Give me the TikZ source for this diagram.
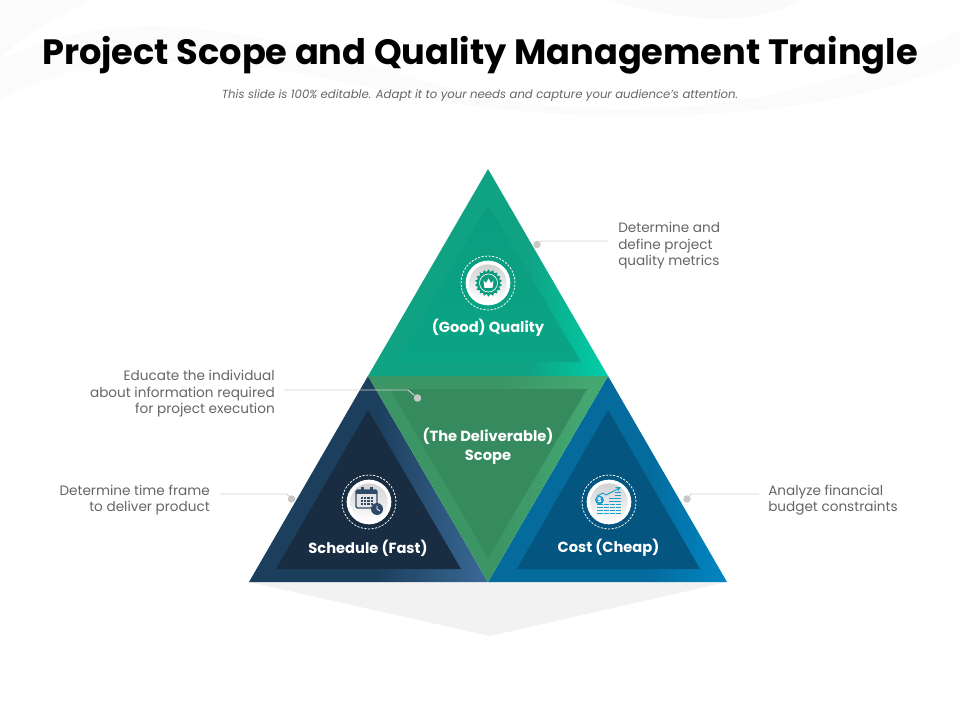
\documentclass[tikz,border=0pt]{standalone}
\usepackage{fontspec}
\setmainfont{Poppins}
\usetikzlibrary{shapes.geometric}
\definecolor{txt}{HTML}{666666}
\definecolor{lineg}{HTML}{D0D0D0}
\definecolor{dotg}{HTML}{C8C8C8}
\definecolor{dishtop}{HTML}{D2D2D2}
\definecolor{iconb}{HTML}{1C9CCB}
\definecolor{iconn}{HTML}{2F4A66}
\definecolor{qa}{HTML}{0FA283}\definecolor{qb}{HTML}{00CFA8}\definecolor{qi}{HTML}{0B9C7E}\definecolor{qj}{HTML}{0AA586}
\definecolor{sa}{HTML}{1D3F5E}\definecolor{sb}{HTML}{3A6A96}\definecolor{si}{HTML}{182C42}
\definecolor{ca}{HTML}{056A9C}\definecolor{cb}{HTML}{0087C4}\definecolor{ci}{HTML}{04557F}
\definecolor{da}{HTML}{3B9565}\definecolor{db}{HTML}{45A871}\definecolor{di}{HTML}{368B5E}
\pgfdeclarehorizontalshading{qshade}{100bp}{color(0bp)=(qa); color(58bp)=(qa); color(75bp)=(qb); color(100bp)=(qb)}
\pgfdeclarehorizontalshading{sshade}{100bp}{color(0bp)=(sa); color(52bp)=(sa); color(75bp)=(sb); color(100bp)=(sb)}
\pgfdeclarehorizontalshading{cshade}{100bp}{color(0bp)=(ca); color(58bp)=(ca); color(75bp)=(cb); color(100bp)=(cb)}
\pgfdeclarehorizontalshading{dshade}{100bp}{color(0bp)=(da); color(52bp)=(da); color(72bp)=(db); color(100bp)=(db)}
\tikzset{
  x=0.75pt,y=-0.75pt,
  note/.style={text=txt,font=\fontsize{10.2pt}{12.4pt}\selectfont,inner ysep=0pt,inner xsep=0pt},
  tag/.style={text=white,font=\fontsize{11pt}{14.4pt}\selectfont\bfseries,align=center,inner sep=0pt},
  lead/.style={draw=lineg,line width=0.7pt},
  dotn/.style={circle,fill=dotg,draw=none,minimum size=5.6pt,inner sep=0pt},
  ring/.style={circle,draw=white,dash pattern=on 1.6pt off 1.1pt,line width=0.6pt,minimum size=40.5pt,inner sep=0pt},
  disc/.style={circle,fill=white,minimum size=33.5pt,inner sep=0pt},
  dish/.style={circle,top color=dishtop,bottom color=white,minimum size=28pt,inner sep=0pt},
}
\begin{document}
\begin{tikzpicture}
\useasboundingbox (0,0) rectangle (960,720);
\fill[white] (0,0) rectangle (960,720);
% faint background swooshes
\fill[black!1.5] (0,60) .. controls (120,0) and (260,30) .. (420,80) .. controls (600,135) and (800,110) .. (960,30) -- (960,62) .. controls (800,130) and (560,125) .. (400,95) .. controls (260,60) and (100,40) .. (0,100) -- cycle;
\fill[black!2] (610,0) .. controls (690,25) and (760,25) .. (800,0) -- cycle;
\fill[black!1.5] (0,0) -- (90,0) .. controls (60,20) and (30,25) .. (0,60) -- cycle;
% shadow
\fill[black!5] (249,582) -- (727,582) -- (490,636) -- cycle;
% title
\node[inner sep=0pt,font=\fontsize{26.4pt}{30pt}\selectfont\bfseries,text=black] (title) at (480,55) {Project Scope and Quality Management Traingle};
\node[inner sep=0pt,font=\fontsize{8.75pt}{10pt}\selectfont\itshape,text=txt] (sub) at (480,95.5) {This slide is 100\% editable. Adapt it to your needs and capture your audience's attention.};
% triangles
\shade[shading=sshade] (368,376) -- (249,582) -- (488,582) -- cycle;
\fill[si] (368,410) -- (276,569) -- (461,569) -- cycle;
\shade[shading=cshade] (608,376) -- (488,582) -- (727,582) -- cycle;
\fill[ci] (608,410) -- (517,569) -- (700,569) -- cycle;
\shade[shading=dshade] (368,376) -- (608,376) -- (488,582) -- cycle;
\fill[di] (390,389) -- (587,389) -- (488,558) -- cycle;
\shade[shading=qshade] (488,169) -- (368,376) -- (608,376) -- cycle;
\shade[top color=qi,bottom color=qj] (488,205) -- (397,362) -- (581,362) -- cycle;
% labels on triangles
\node[tag] (good) at (488,328) {(Good) Quality};
\node[tag] (deliv) at (488,446) {(The Deliverable)\\Scope};
\node[tag] (sched) at (368,548) {Schedule (Fast)};
\node[tag] (cost) at (608.5,548) {Cost (Cheap)};
% icon discs
\node[ring] (rq) at (488,283) {};
\node[disc] (dq) at (488,283) {};
\node[dish] (iq) at (488,283) {};
\node[ring] (rs) at (369,502) {};
\node[disc] (ds) at (369,502) {};
\node[dish] (is) at (369,502) {};
\node[ring] (rc) at (609,502) {};
\node[disc] (dc) at (609,502) {};
\node[dish] (ic) at (609,502) {};
% crown gear
\node[star,star points=18,star point ratio=1.22,fill=qi,minimum size=20.5pt,inner sep=0pt] (gear) at (488.5,283) {};
\node[circle,draw=white,fill=qi,line width=0.5pt,minimum size=13.5pt,inner sep=0pt] (gearin) at (488.5,283) {};
\fill[white] (483.5,280.5) -- (486,283) -- (488.5,278.5) -- (491,283) -- (493.5,280.5) -- (492.5,288) -- (484.5,288) -- cycle;
% calendar
\begin{scope}[iconn]
\draw[line width=1pt,rounded corners=1pt,fill=white!90!black] (356,490) rectangle (377,508);
\fill (356,490) rectangle (377,494);
\fill (361,487) rectangle (363.5,493);
\fill (370,487) rectangle (372.5,493);
\foreach \i in {0,1,2,3}\foreach \j in {0,1,2}{\fill (361+3.2*\i,497+3*\j) rectangle ++(2.2,2);}
\fill (377,509) circle (6*0.75pt);
\draw[white,line width=0.6pt] (377,505.5) -- (377,509) -- (380,511);
\end{scope}
% chart
\begin{scope}[iconb]
\foreach \r in {0,1,2,3}{\fill (597,512.5-3*\r) rectangle (621,514-3*\r);}
\foreach \r in {4,5}{\fill (609,512.5-3*\r) rectangle (621,514-3*\r);}
\foreach \r in {6,7}{\fill (615,512.5-3*\r) rectangle (621,514-3*\r);}
\foreach \i in {1,...,3}{\fill[white!90!black] (597+6*\i-0.4,502) rectangle ++(0.8,13);}
\draw[line width=0.7pt,-stealth] (597,496) -- (603,493) -- (606,495) -- (612,492) -- (621,487);
\fill (599.5,500) circle (4.4*0.75pt);
\node[inner sep=0pt,text=white,font=\fontsize{5pt}{5pt}\selectfont\bfseries] (dollar) at (599.5,500) {\$};
\end{scope}
% callouts
\node[note,anchor=west,align=left] (nq) at (618,246) {Determine and\\define project\\quality metrics};
\node[note,anchor=east,align=right] (ne) at (275,394) {Educate the individual\\about information required\\for project execution};
\node[note,anchor=east,align=right] (nt) at (210,500) {Determine time frame\\to deliver product};
\node[note,anchor=west,align=left] (nb) at (768,500) {Analyze financial\\budget constraints};
\node[dotn] (dotq) at (537,244.5) {};
\node[dotn] (dote) at (417.5,398) {};
\node[dotn] (dott) at (291.5,499) {};
\node[dotn] (dotb) at (687,499) {};
\coordinate (q1) at (608,241); \coordinate (q2) at (541,241);
\coordinate (e1) at (284,390); \coordinate (e2) at (408,390);
\coordinate (t1) at (220,494); \coordinate (t2) at (287,494);
\coordinate (b1) at (759,494); \coordinate (b2) at (691,494);
\draw[lead] (q1) -- (q2) -- (dotq);
\draw[lead] (e1) -- (e2) -- (dote);
\draw[lead] (t1) -- (t2) -- (dott);
\draw[lead] (b1) -- (b2) -- (dotb);
\end{tikzpicture}
\end{document}
